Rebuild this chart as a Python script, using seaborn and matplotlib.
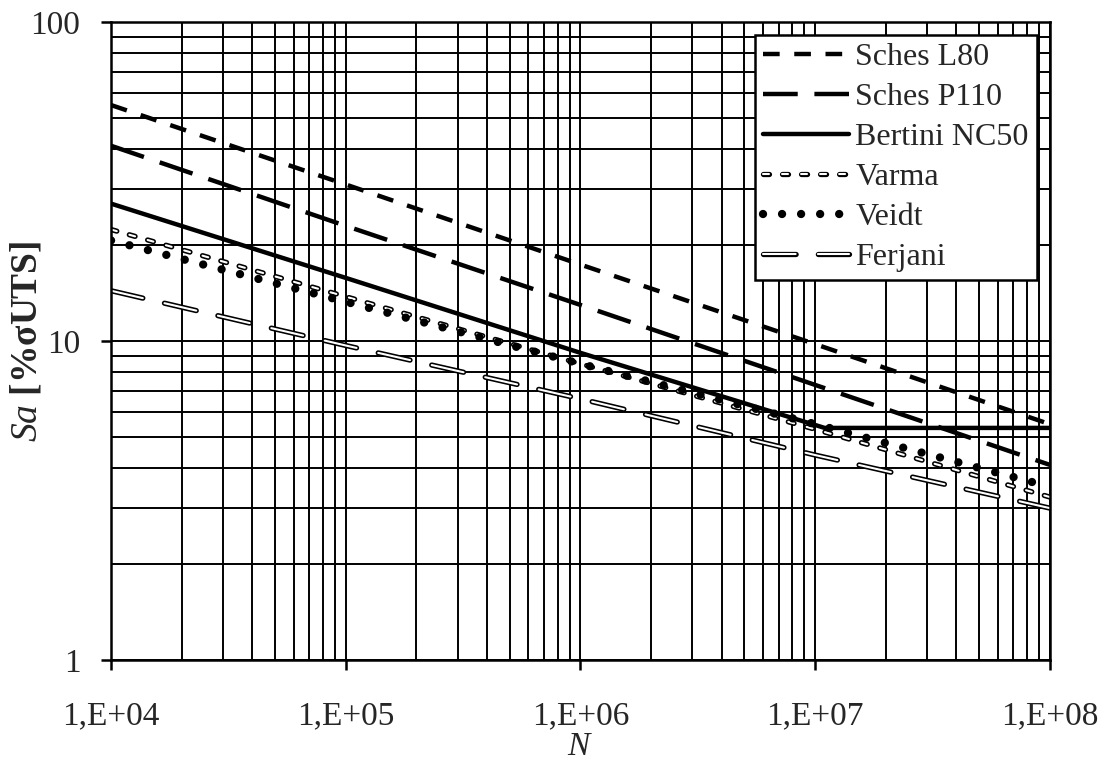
import matplotlib
matplotlib.use("Agg")
import matplotlib.pyplot as plt
import matplotlib.patheffects as pe
from matplotlib.ticker import LogLocator, FixedLocator, FixedFormatter, NullFormatter
import seaborn as sns
import numpy as np

sns.set_style("white")
plt.rcParams['font.family'] = ['Liberation Serif', 'DejaVu Serif']
plt.rcParams['mathtext.fontset'] = 'custom'
plt.rcParams['mathtext.it'] = 'Liberation Serif:italic'
plt.rcParams['mathtext.rm'] = 'Liberation Serif'
plt.rcParams['mathtext.bf'] = 'Liberation Serif:bold'
plt.rcParams['lines.scale_dashes'] = False  # dash lengths given in points

# cycles to failure and stress amplitude (% of UTS)
n_l80 = [1e4, 1e5, 1e6, 1e7, 1e8]
sa_l80 = [55, 31, 17.4, 9.8, 5.5]

n_p110 = [1e4, 1e5, 1e6, 1e7, 1e8]
sa_p110 = [41, 23, 13, 7.3, 4.1]

n_bertini = [1e4, 1e5, 1e6, 1.1e7, 1e8]
sa_bertini = [27, 15.8, 9.2, 5.35, 5.35]

n_varma = [1e4, 1e5, 1e6, 1e7, 1e8]
sa_varma = [22.4, 13.8, 8.5, 5.3, 3.25]

n_veidt = [1e4, 1e5, 1e6, 1e7, 1e8]
sa_veidt = [20.7, 13.3, 8.5, 5.5, 3.5]

n_ferjani = [1e4, 1e5, 1e6, 1e7, 1e8]
sa_ferjani = [14.4, 9.7, 6.6, 4.4, 3.0]

x_ticks = [1e4, 1e5, 1e6, 1e7, 1e8]
x_labels = ['1,E+04', '1,E+05', '1,E+06', '1,E+07', '1,E+08']
y_ticks = [1, 10, 100]
y_labels = ['1', '10', '100']

fig = plt.figure(figsize=(11.06, 7.66), dpi=100)
ax = fig.add_axes([0.1004, 0.138, 0.8486, 0.833])

# white line over a thicker black stroke gives the hollow dashes
outline = [pe.Stroke(linewidth=3.8, foreground='black'), pe.Normal()]

sns.lineplot(x=n_l80, y=sa_l80, ax=ax, color='black', lw=3.2, label='Sches L80')
ax.lines[-1].set_dashes([12, 10.5])

sns.lineplot(x=n_p110, y=sa_p110, ax=ax, color='black', lw=3.2, label='Sches P110')
ax.lines[-1].set_dashes([25, 12])

sns.lineplot(x=n_bertini, y=sa_bertini, ax=ax, color='black', lw=3.2,
             label='Bertini NC50')

sns.lineplot(x=n_varma, y=sa_varma, ax=ax, color='white', lw=1.5, label='Varma')
ax.lines[-1].set_dashes([4.3, 9.4])
ax.lines[-1].set_dash_capstyle('round')
ax.lines[-1].set_path_effects(outline)

sns.lineplot(x=n_veidt, y=sa_veidt, ax=ax, color='black', lw=6, label='Veidt')
ax.lines[-1].set_dashes([0.01, 13.7])
ax.lines[-1].set_dash_capstyle('round')

sns.lineplot(x=n_ferjani, y=sa_ferjani, ax=ax, color='white', lw=1.5, label='Ferjani')
ax.lines[-1].set_dashes([23.5, 16])
ax.lines[-1].set_dash_capstyle('round')
ax.lines[-1].set_path_effects(outline)

ax.set_xscale('log')
ax.set_yscale('log')
ax.set_xlim(1e4, 1e8)
ax.set_ylim(1, 100)

ax.xaxis.set_major_locator(FixedLocator(x_ticks))
ax.xaxis.set_major_formatter(FixedFormatter(x_labels))
ax.yaxis.set_major_locator(FixedLocator(y_ticks))
ax.yaxis.set_major_formatter(FixedFormatter(y_labels))
ax.xaxis.set_minor_locator(LogLocator(base=10, subs=np.arange(2, 10)))
ax.yaxis.set_minor_locator(LogLocator(base=10, subs=np.arange(2, 10)))
ax.xaxis.set_minor_formatter(NullFormatter())
ax.yaxis.set_minor_formatter(NullFormatter())

ax.grid(True, which='both', color='black', lw=1.4)
ax.set_axisbelow(True)
for s in ax.spines.values():
    s.set_color('black')
    s.set_linewidth(1.8)

ax.tick_params(axis='both', which='major', direction='out', length=7,
               width=1.8, color='black', labelsize=24, bottom=True, left=True)
ax.tick_params(axis='x', which='major', pad=22)
ax.tick_params(axis='y', which='major', pad=15)
ax.tick_params(axis='both', which='minor', length=0)

ax.set_xlabel(r'$N$', fontsize=24, labelpad=0)
ax.set_ylabel(r'$Sa$ [%$\mathbf{\sigma}$UTS]', fontsize=27, fontweight='bold')
ax.yaxis.set_label_coords(-0.0714, 0.5)

leg = ax.legend(loc='upper right', fontsize=23, frameon=True, fancybox=False,
                edgecolor='black', framealpha=1, handlelength=2.7,
                handletextpad=0.2, borderaxespad=0.4, labelspacing=0.33,
                borderpad=0.25)
leg.get_frame().set_linewidth(1.8)

fig.savefig('out.png', dpi=100)
